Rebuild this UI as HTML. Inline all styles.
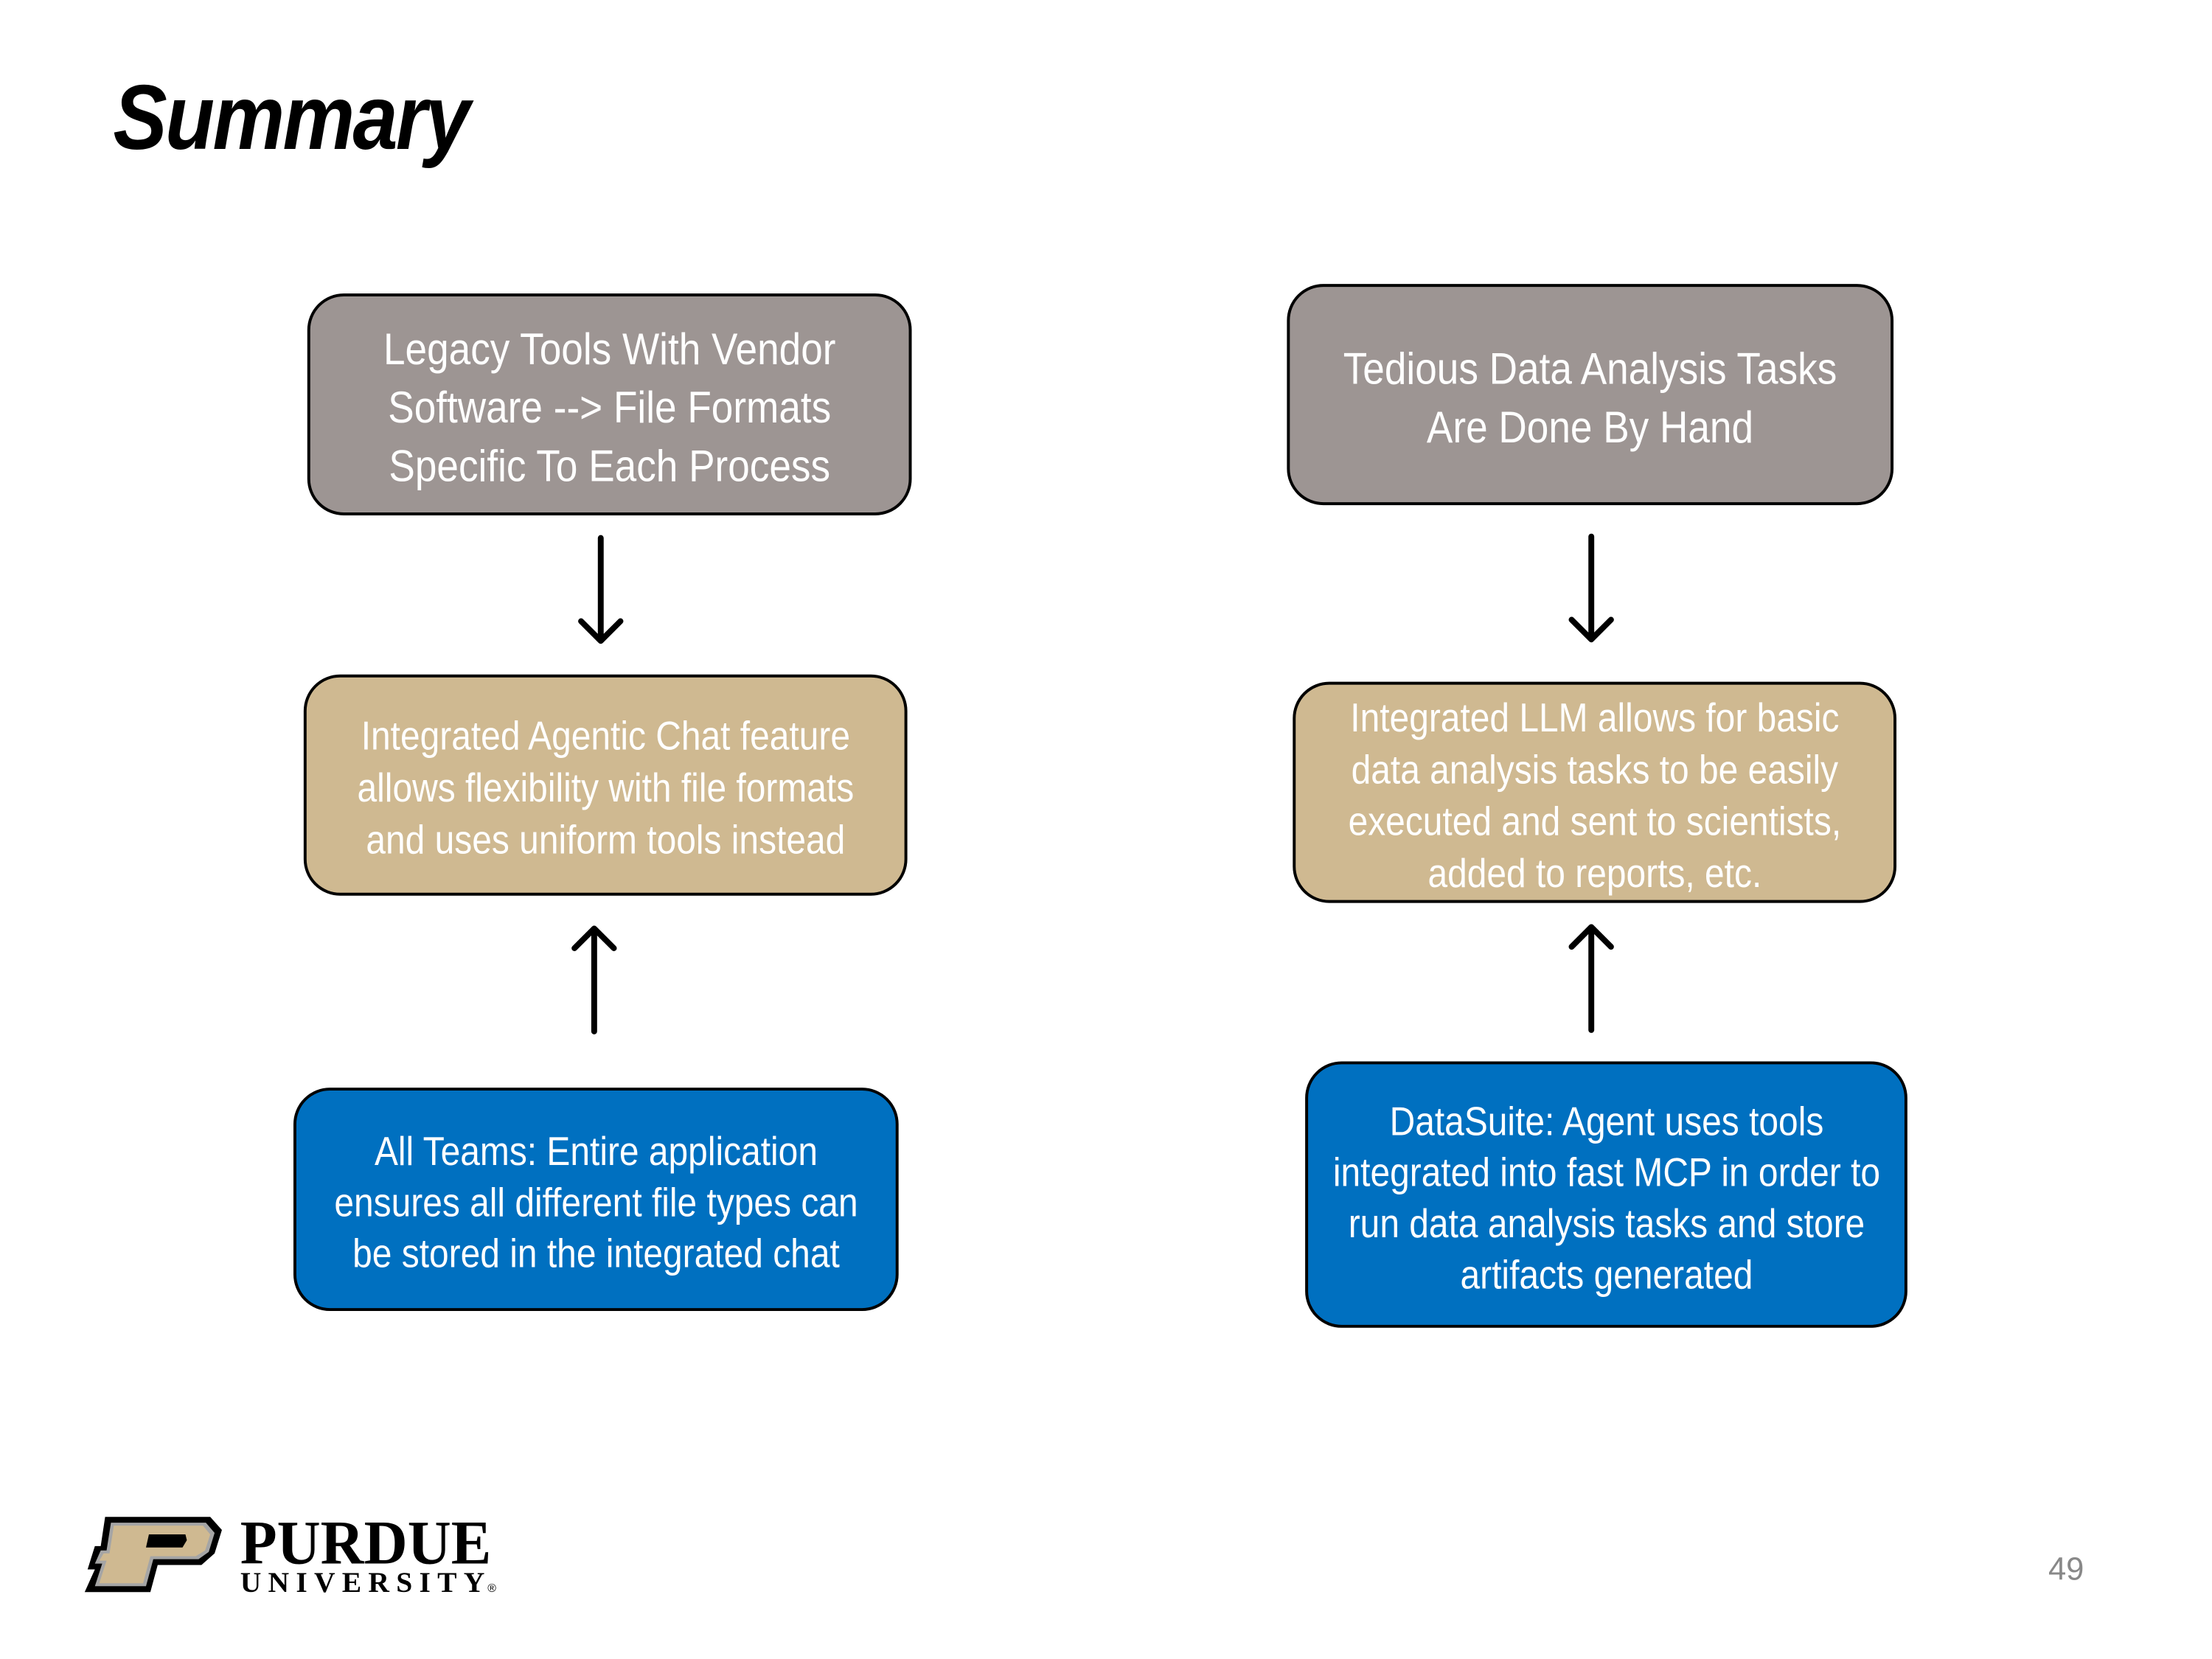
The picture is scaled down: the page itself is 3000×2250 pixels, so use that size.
<!DOCTYPE html>
<html><head><meta charset="utf-8"><style>
html,body{margin:0;padding:0;background:#fff}
body{width:3000px;height:2250px;position:relative;overflow:hidden;font-family:"Liberation Sans",sans-serif}
#w{position:absolute;left:0;top:0;width:3000px;height:2250px;transform:scale(0.99);transform-origin:0 0}
.box{position:absolute;box-sizing:border-box;border:4px solid #000;border-radius:50px;display:flex;align-items:center;justify-content:center;text-align:center;color:#fff;white-space:nowrap;padding-top:8px}
.box span{display:inline-block;transform:scaleX(0.88)}
.g{background:#9d9593;font-size:61px;line-height:80px}
.t{background:#cfb991;font-size:55px;line-height:71px}
.b{background:#0070c0;font-size:55px;line-height:70px}
.title{position:absolute;left:155px;top:88px;font-family:"Liberation Sans",sans-serif;font-style:italic;font-weight:bold;font-size:126px;letter-spacing:-3px;color:#000;transform:scaleX(0.88);transform-origin:0 0}
.pn{position:absolute;left:2806px;top:2125px;font-family:"Liberation Sans",sans-serif;font-size:44px;color:#888}
</style></head><body><div id="w">
<div class="title">Summary</div>

<div class="box g" style="left:421px;top:402px;width:828px;height:304px"><span>Legacy Tools With Vendor<br>Software --&gt; File Formats<br>Specific To Each Process</span></div>
<div class="box g" style="left:1763px;top:389px;width:831px;height:303px"><span>Tedious Data Analysis Tasks<br>Are Done By Hand</span></div>
<div class="box t" style="left:416px;top:924px;width:827px;height:303px"><span>Integrated Agentic Chat feature<br>allows flexibility with file formats<br>and uses uniform tools instead</span></div>
<div class="box t" style="left:1771px;top:934px;width:827px;height:303px"><span>Integrated LLM allows for basic<br>data analysis tasks to be easily<br>executed and sent to scientists,<br>added to reports, etc.</span></div>
<div class="box b" style="left:402px;top:1490px;width:829px;height:306px"><span>All Teams: Entire application<br>ensures all different file types can<br>be stored in the integrated chat</span></div>
<div class="box b" style="left:1788px;top:1454px;width:825px;height:365px"><span>DataSuite: Agent uses tools<br>integrated into fast MCP in order to<br>run data analysis tasks and store<br>artifacts generated</span></div>

<svg style="position:absolute;left:0;top:0" width="3000" height="2250">
<g stroke="#000" stroke-width="8" fill="none" stroke-linecap="round" stroke-linejoin="round">
<path d="M823 737 V878 M796 851 L823 878 L850 851"/>
<path d="M2180 735 V876 M2153 849 L2180 876 L2207 849"/>
<path d="M814 1413 V1272 M787 1299 L814 1272 L841 1299"/>
<path d="M2180 1411 V1270 M2153 1297 L2180 1270 L2207 1297"/>
</g>
<g transform="translate(116,2078)">
<polygon points="28,0 172,0 188,18 178,50 160,66 100,66 90,103 0,103 14,72 4,72 14,40 22,40" fill="#000"/>
<polygon points="36,8 166,8 178,22 170,48 156,58 94,58 84,95 14,95 24,64 14,64 22,46 30,46" fill="#a5a5a5"/>
<polygon points="40,12 162,12 172,24 165,46 152,54 90,54 80,91 20,91 30,60 20,60 26,50 34,50" fill="#cfb991"/>
<polygon points="88,24 138,24 140,32 134,42 84,42" fill="#000"/>
</g>
<text x="329" y="2142" font-family="Liberation Serif,serif" font-weight="bold" font-size="86" textLength="344" lengthAdjust="spacingAndGlyphs">PURDUE</text>
<text x="329" y="2181" font-family="Liberation Serif,serif" font-weight="bold" font-size="40" textLength="335" lengthAdjust="spacing">UNIVERSITY</text>
<text x="668" y="2181" font-family="Liberation Sans,sans-serif" font-size="16">®</text>
</svg>
<div class="pn">49</div>
</div></body></html>
